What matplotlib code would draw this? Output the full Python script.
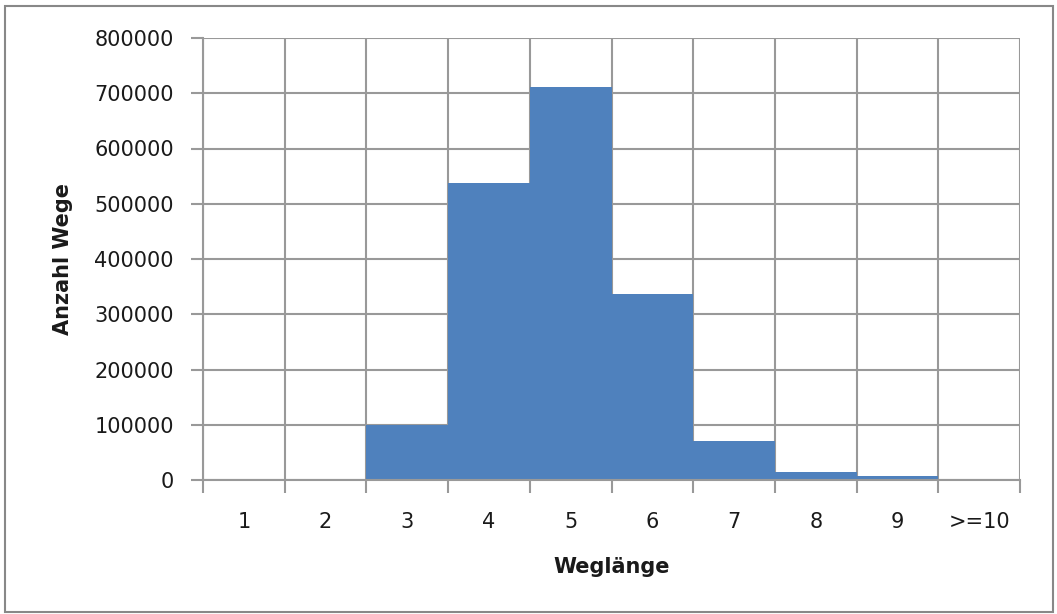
import matplotlib.pyplot as plt
from matplotlib.patches import Rectangle

# Daten
kategorien = ['1', '2', '3', '4', '5', '6', '7', '8', '9', '>=10']
anzahl = [0, 0, 100000, 537000, 711000, 337000, 70000, 15000, 7000, 0]
y_ticks = [0, 100000, 200000, 300000, 400000, 500000, 600000, 700000, 800000]

plt.rcParams['font.family'] = ['DejaVu Sans']

fig = plt.figure(figsize=(10.57, 6.14), dpi=100)
ax = fig.add_axes([203/1057, 1 - 480/614, (1020-203)/1057, (480-38)/614])

pos = list(range(len(kategorien)))
ax.bar(pos, anzahl, width=1.0, color='#4F81BD', linewidth=0, zorder=2)

ax.set_xlim(-0.5, len(kategorien) - 0.5)
ax.set_ylim(0, 800000)

# Gitter an den Kategoriegrenzen
grenzen = [p - 0.5 for p in pos] + [len(kategorien) - 0.5]
ax.set_xticks(grenzen, minor=True)
ax.set_xticks(pos)
ax.set_xticklabels(kategorien, fontsize=15, color='#1a1a1a')
ax.tick_params(axis='x', which='major', length=0, pad=23)
ax.tick_params(axis='x', which='minor', length=9, width=1.5, color='#999999')
ax.set_yticks(y_ticks)
ax.set_yticklabels([str(v) for v in y_ticks], fontsize=15, color='#1a1a1a')
ax.tick_params(axis='y', length=9, width=1.5, color='#999999', pad=12)

ax.grid(True, which='minor', axis='x', color='#999999', linewidth=1.5, zorder=1)
ax.grid(True, which='major', axis='y', color='#999999', linewidth=1.5, zorder=1)
ax.grid(False, which='major', axis='x')
for s in ax.spines.values():
    s.set_visible(False)
ax.spines['left'].set_visible(True)
ax.spines['left'].set_color('#999999')
ax.spines['left'].set_linewidth(1.5)
ax.spines['bottom'].set_visible(True)
ax.spines['bottom'].set_color('#999999')
ax.spines['bottom'].set_linewidth(1.5)

ax.set_xlabel('Weglänge', fontsize=15, fontweight='bold', labelpad=18, color='#1a1a1a')
ax.set_ylabel('Anzahl Wege', fontsize=15, fontweight='bold', labelpad=15, color='#1a1a1a')

# Rahmen um das Diagramm
fig.patches.append(Rectangle((5/1057, 2/614), 1048/1057, 606/614, transform=fig.transFigure,
                             fill=False, edgecolor='#888888', linewidth=1.5))

fig.savefig('out.png', dpi=100)
